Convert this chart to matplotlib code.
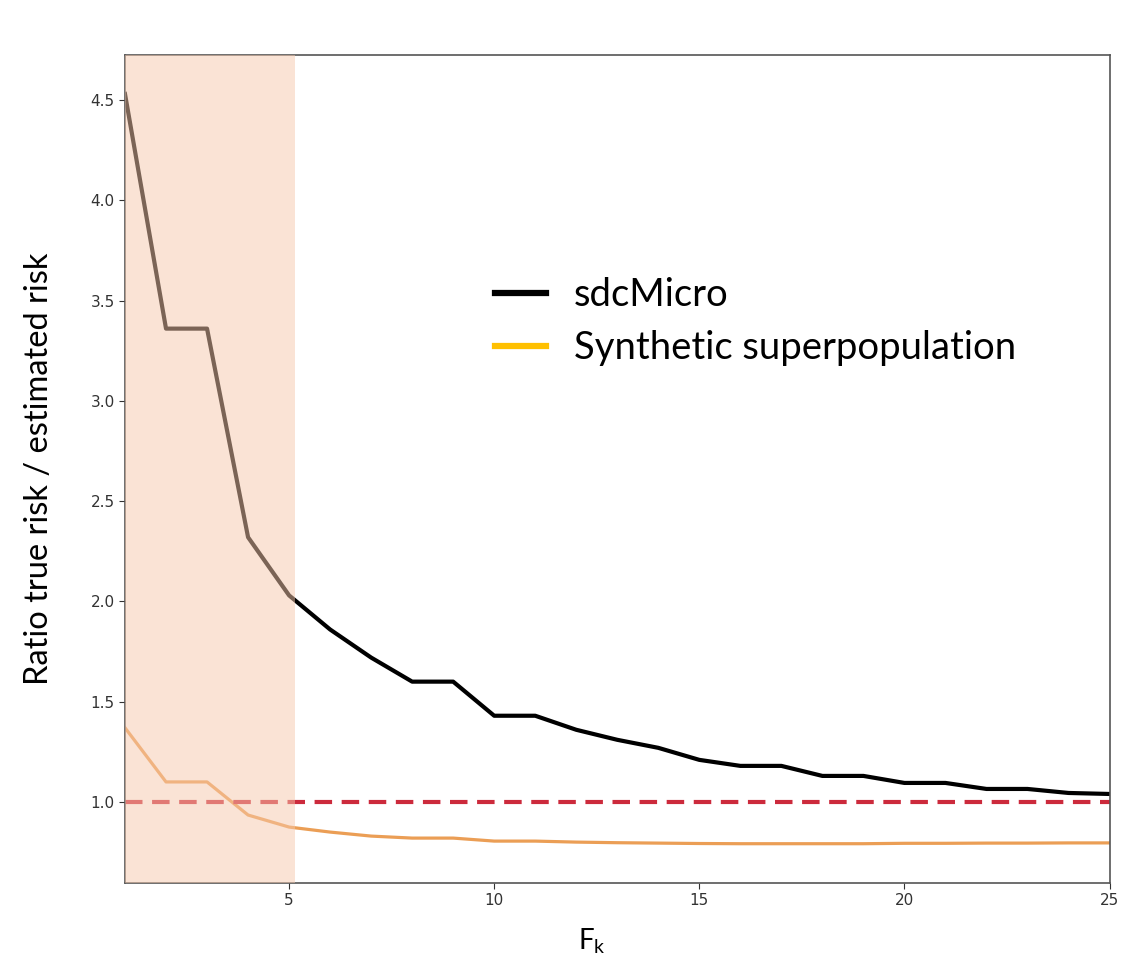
import matplotlib.pyplot as plt
from matplotlib.lines import Line2D

# F_k values and risk ratios
fk = list(range(1, 26))
sdcmicro = [4.53, 3.36, 3.36, 2.32, 2.03, 1.86, 1.72, 1.60, 1.60, 1.43,
            1.43, 1.36, 1.31, 1.27, 1.21, 1.18, 1.18, 1.13, 1.13, 1.095,
            1.095, 1.065, 1.065, 1.045, 1.04]
synthetic = [1.37, 1.10, 1.10, 0.935, 0.875, 0.85, 0.83, 0.82, 0.82, 0.805,
             0.805, 0.80, 0.797, 0.795, 0.793, 0.792, 0.792, 0.792, 0.792, 0.794,
             0.794, 0.795, 0.795, 0.796, 0.796]
legend_labels = ["sdcMicro", "Synthetic superpopulation"]
shade_range = (1, 5.15)
reference_ratio = 1.0

fig = plt.figure(figsize=(11.22, 9.57), dpi=100)
ax = fig.add_axes([0.1114, 0.0773, 0.8775, 0.8652])

ax.plot(fk, sdcmicro, color="black", lw=3, zorder=2)
ax.plot(fk, synthetic, color="#eb9e55", lw=2.3, zorder=2)
ax.axhline(reference_ratio, color="#cc2a3c", lw=3, ls=(0, (4.2, 2.3)), zorder=2)
# shaded low-F_k region sits on top of the lines
ax.axvspan(*shade_range, color="#f6c8ac", alpha=0.5, lw=0, zorder=3)

ax.set_xlim(1, 25)
ax.set_ylim(0.596, 4.724)
ax.set_xticks([5, 10, 15, 20, 25])
ax.set_yticks([1.0, 1.5, 2.0, 2.5, 3.0, 3.5, 4.0, 4.5])
ax.tick_params(labelsize=11, colors="#333333", length=4)
for s in ax.spines.values():
    s.set_color("#555555")
    s.set_linewidth(1.2)

ax.set_ylabel("Ratio true risk / estimated risk", fontsize=23.5, family="Lato")
ax.yaxis.set_label_coords(-0.072, 0.5)
ax.set_xlabel("F$_\\mathregular{k}$", fontsize=20, family="Lato")
ax.xaxis.set_label_coords(0.474, -0.052)

handles = [Line2D([], [], color="black", lw=4.5),
           Line2D([], [], color="#ffc000", lw=4.5)]
ax.legend(handles, legend_labels, loc="center left", bbox_to_anchor=(0.3756, 0.678),
          frameon=False, prop={"family": "Lato", "size": 27.5}, handlelength=1.33,
          handletextpad=0.75, labelspacing=0.45, borderpad=0, borderaxespad=0)

plt.savefig("out.png", dpi=100)
plt.close()
